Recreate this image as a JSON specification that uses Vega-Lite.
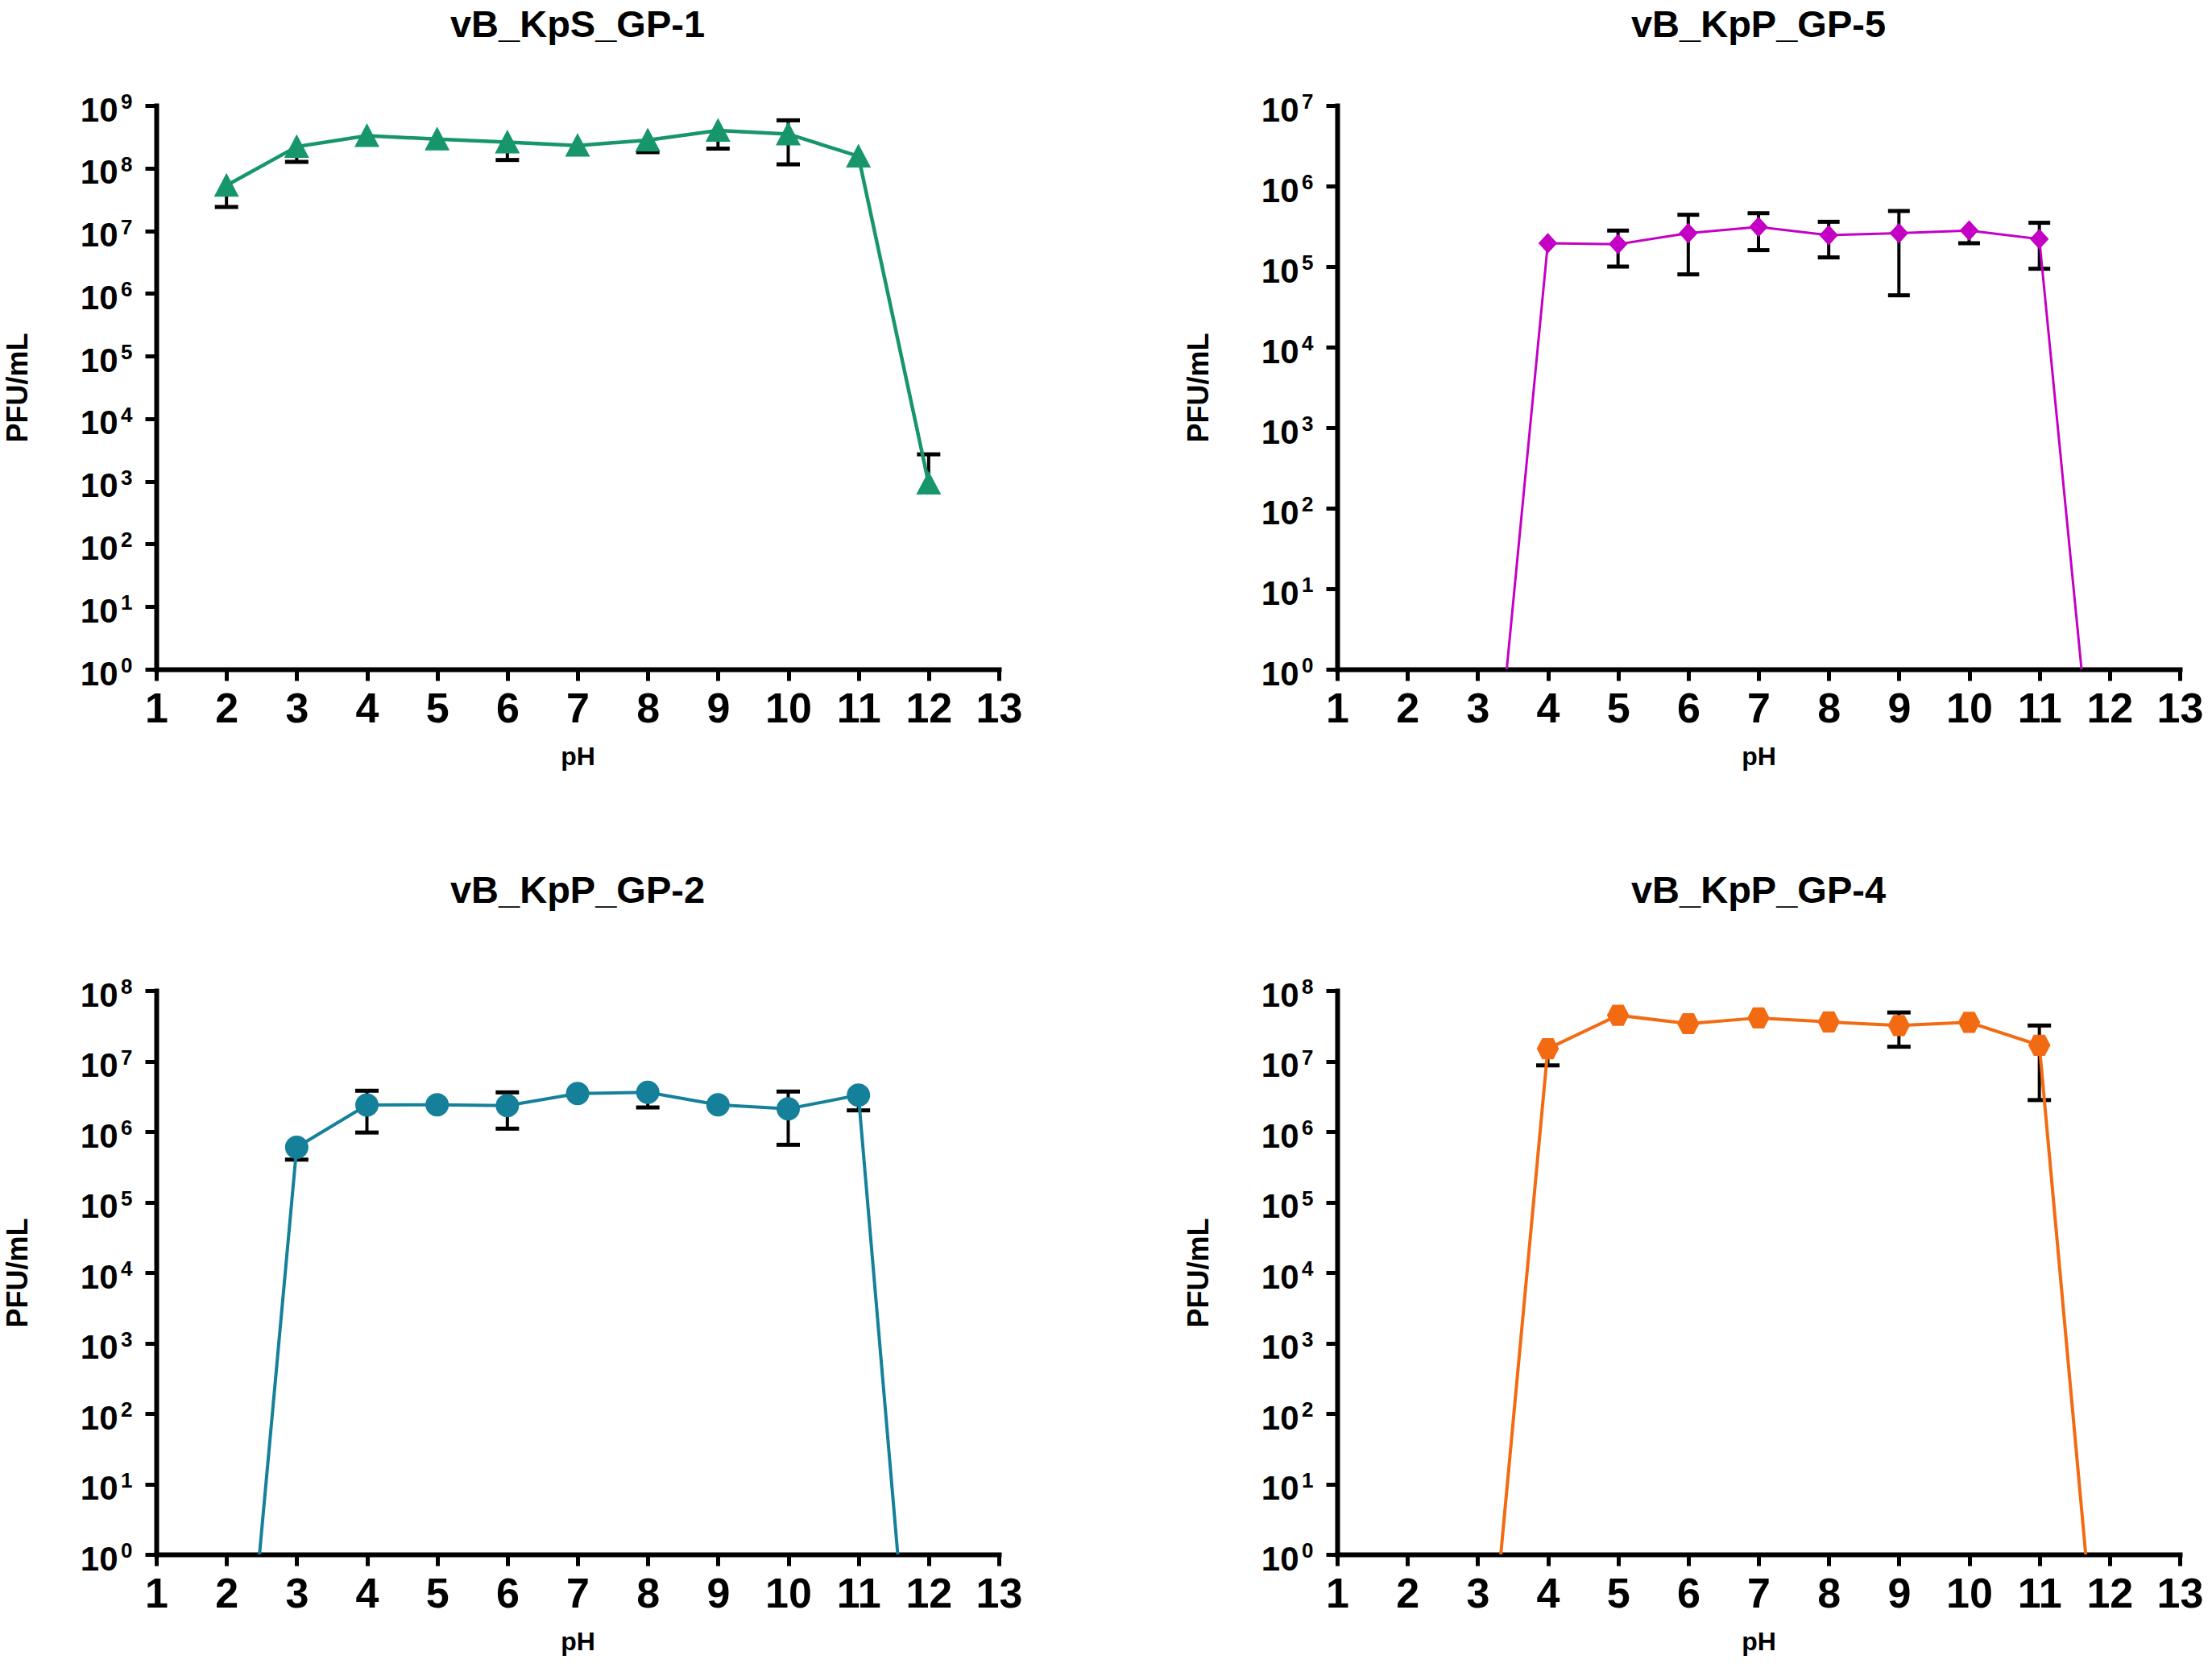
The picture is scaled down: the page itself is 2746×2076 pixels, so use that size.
{
  "$schema": "https://vega.github.io/schema/vega-lite/v6.json",
  "background": "white",
  "padding": {"left": 4, "top": 8, "right": 10, "bottom": 6},
  "spacing": 128,
  "config": {
    "view": {"stroke": null},
    "font": "Liberation Sans",
    "title": {"font": "Liberation Sans", "fontWeight": "bold", "fontSize": 47, "color": "black", "anchor": "middle"},
    "axis": {
      "grid": false,
      "domainColor": "black", "domainWidth": 6, "domainCap": "square",
      "tickColor": "black", "tickWidth": 5, "tickSize": 14,
      "labelFont": "Liberation Sans", "labelFontWeight": "bold", "labelColor": "black",
      "titleFont": "Liberation Sans", "titleFontWeight": "bold", "titleColor": "black"
    },
    "axisX": {"labelFontSize": 52, "labelPadding": 10, "titleFontSize": 32, "titlePadding": 18, "labelFlush": false},
    "axisY": {"labelFontSize": 42, "labelPadding": 34, "labelOffset": 6, "titleFontSize": 36, "titlePadding": 58}
  },
  "vconcat": [
    {
      "hconcat": [
        {
          "width": 1046, "height": 700,
          "title": {"text": "vB_KpS_GP-1", "offset": 58},
          "data": {"values": [
            {"pH": 2, "v": 53000000, "lo": 24000000, "hi": null},
            {"pH": 3, "v": 220000000, "lo": 126000000, "hi": null},
            {"pH": 4, "v": 330000000, "lo": null, "hi": null},
            {"pH": 5, "v": 290000000, "lo": null, "hi": null},
            {"pH": 6, "v": 260000000, "lo": 135000000, "hi": null},
            {"pH": 7, "v": 230000000, "lo": null, "hi": null},
            {"pH": 8, "v": 280000000, "lo": 180000000, "hi": null},
            {"pH": 9, "v": 400000000, "lo": 205000000, "hi": null},
            {"pH": 10, "v": 350000000, "lo": 115000000, "hi": 580000000},
            {"pH": 11, "v": 155000000, "lo": null, "hi": null},
            {"pH": 12, "v": 930, "lo": null, "hi": 2700}
          ]},
          "encoding": {
            "x": {"field": "pH", "type": "quantitative", "scale": {"domain": [1, 13], "nice": false, "zero": false},
                  "axis": {"values": [1,2,3,4,5,6,7,8,9,10,11,12,13], "format": "d", "title": "pH"}},
            "y": {"field": "v", "type": "quantitative", "title": "PFU/mL",
                  "scale": {"type": "log", "domain": [1, 1000000000], "nice": false},
                  "axis": {"values": [1,10,100,1000,10000,100000,1000000,10000000,100000000,1000000000], "labelExpr": "'10'"}}
          },
          "layer": [
            {"transform": [{"filter": "datum.lo != null"}], "mark": {"type": "rule", "color": "black", "strokeWidth": 4}, "encoding": {"y2": {"field": "lo"}}},
            {"transform": [{"filter": "datum.hi != null"}], "mark": {"type": "rule", "color": "black", "strokeWidth": 4}, "encoding": {"y2": {"field": "hi"}}},
            {"transform": [{"filter": "datum.lo != null"}], "mark": {"type": "tick", "orient": "horizontal", "color": "black", "size": 29, "thickness": 5, "opacity": 1},
             "encoding": {"y": {"field": "lo", "type": "quantitative", "title": "PFU/mL", "scale": {"type": "log", "domain": [1, 1000000000], "nice": false}}}},
            {"transform": [{"filter": "datum.hi != null"}], "mark": {"type": "tick", "orient": "horizontal", "color": "black", "size": 29, "thickness": 5, "opacity": 1},
             "encoding": {"y": {"field": "hi", "type": "quantitative", "title": "PFU/mL", "scale": {"type": "log", "domain": [1, 1000000000], "nice": false}}}},
            {"mark": {"type": "line", "color": "#16966A", "strokeWidth": 4.5, "clip": true}},
            {"mark": {"type": "point", "shape": "M0,-1L1,0.9L-1,0.9Z", "size": 960, "filled": true, "color": "#16966A", "opacity": 1, "clip": true}},
            {"data": {"values": [{"e": "0", "t": 1}, {"e": "1", "t": 10}, {"e": "2", "t": 100}, {"e": "3", "t": 1000}, {"e": "4", "t": 10000}, {"e": "5", "t": 100000}, {"e": "6", "t": 1000000}, {"e": "7", "t": 10000000}, {"e": "8", "t": 100000000}, {"e": "9", "t": 1000000000}]},
             "mark": {"type": "text", "font": "Liberation Sans", "fontWeight": "bold", "fontSize": 26, "fill": "black", "align": "left", "baseline": "middle", "dx": -44, "dy": -4, "clip": false},
             "encoding": {"x": {"value": 0}, "y": {"field": "t", "type": "quantitative", "title": "PFU/mL", "scale": {"type": "log", "domain": [1, 1000000000], "nice": false}}, "text": {"field": "e", "type": "nominal"}}}
          ]
        },
        {
          "width": 1046, "height": 700,
          "title": {"text": "vB_KpP_GP-5", "offset": 58},
          "data": {"values": [
            {"pH": 3, "v": 0.00018, "lo": null, "hi": null},
            {"pH": 4, "v": 195000, "lo": null, "hi": null},
            {"pH": 5, "v": 190000, "lo": 100000, "hi": 280000},
            {"pH": 6, "v": 260000, "lo": 80000, "hi": 440000},
            {"pH": 7, "v": 310000, "lo": 160000, "hi": 460000},
            {"pH": 8, "v": 245000, "lo": 130000, "hi": 360000},
            {"pH": 9, "v": 260000, "lo": 44000, "hi": 490000},
            {"pH": 10, "v": 280000, "lo": 195000, "hi": null},
            {"pH": 11, "v": 220000, "lo": 94000, "hi": 350000},
            {"pH": 12, "v": 0.00028, "lo": null, "hi": null}
          ]},
          "encoding": {
            "x": {"field": "pH", "type": "quantitative", "scale": {"domain": [1, 13], "nice": false, "zero": false},
                  "axis": {"values": [1,2,3,4,5,6,7,8,9,10,11,12,13], "format": "d", "title": "pH"}},
            "y": {"field": "v", "type": "quantitative", "title": "PFU/mL",
                  "scale": {"type": "log", "domain": [1, 10000000], "nice": false},
                  "axis": {"values": [1,10,100,1000,10000,100000,1000000,10000000], "labelExpr": "'10'"}}
          },
          "layer": [
            {"transform": [{"filter": "datum.lo != null"}], "mark": {"type": "rule", "color": "black", "strokeWidth": 4}, "encoding": {"y2": {"field": "lo"}}},
            {"transform": [{"filter": "datum.hi != null"}], "mark": {"type": "rule", "color": "black", "strokeWidth": 4}, "encoding": {"y2": {"field": "hi"}}},
            {"transform": [{"filter": "datum.lo != null"}], "mark": {"type": "tick", "orient": "horizontal", "color": "black", "size": 27, "thickness": 5, "opacity": 1},
             "encoding": {"y": {"field": "lo", "type": "quantitative", "title": "PFU/mL", "scale": {"type": "log", "domain": [1, 10000000], "nice": false}}}},
            {"transform": [{"filter": "datum.hi != null"}], "mark": {"type": "tick", "orient": "horizontal", "color": "black", "size": 27, "thickness": 5, "opacity": 1},
             "encoding": {"y": {"field": "hi", "type": "quantitative", "title": "PFU/mL", "scale": {"type": "log", "domain": [1, 10000000], "nice": false}}}},
            {"mark": {"type": "line", "color": "#C400C4", "strokeWidth": 3, "clip": true}},
            {"mark": {"type": "point", "shape": "M0,-1L0.92,0L0,1L-0.92,0Z", "size": 650, "filled": true, "color": "#C400C4", "opacity": 1, "clip": true}},
            {"data": {"values": [{"e": "0", "t": 1}, {"e": "1", "t": 10}, {"e": "2", "t": 100}, {"e": "3", "t": 1000}, {"e": "4", "t": 10000}, {"e": "5", "t": 100000}, {"e": "6", "t": 1000000}, {"e": "7", "t": 10000000}]},
             "mark": {"type": "text", "font": "Liberation Sans", "fontWeight": "bold", "fontSize": 26, "fill": "black", "align": "left", "baseline": "middle", "dx": -44, "dy": -4, "clip": false},
             "encoding": {"x": {"value": 0}, "y": {"field": "t", "type": "quantitative", "title": "PFU/mL", "scale": {"type": "log", "domain": [1, 10000000], "nice": false}}, "text": {"field": "e", "type": "nominal"}}}
          ]
        }
      ],
      "spacing": 420,
      "bounds": "flush"
    },
    {
      "hconcat": [
        {
          "width": 1046, "height": 700,
          "title": {"text": "vB_KpP_GP-2", "offset": 82},
          "data": {"values": [
            {"pH": 2, "v": 0.0000075, "lo": null, "hi": null},
            {"pH": 3, "v": 600000, "lo": 400000, "hi": null},
            {"pH": 4, "v": 2380000, "lo": 970000, "hi": 3800000},
            {"pH": 5, "v": 2400000, "lo": null, "hi": null},
            {"pH": 6, "v": 2340000, "lo": 1100000, "hi": 3600000},
            {"pH": 7, "v": 3470000, "lo": null, "hi": null},
            {"pH": 8, "v": 3600000, "lo": 2200000, "hi": null},
            {"pH": 9, "v": 2400000, "lo": null, "hi": null},
            {"pH": 10, "v": 2100000, "lo": 650000, "hi": 3700000},
            {"pH": 11, "v": 3300000, "lo": 2000000, "hi": null},
            {"pH": 12, "v": 0.0000076, "lo": null, "hi": null}
          ]},
          "encoding": {
            "x": {"field": "pH", "type": "quantitative", "scale": {"domain": [1, 13], "nice": false, "zero": false},
                  "axis": {"values": [1,2,3,4,5,6,7,8,9,10,11,12,13], "format": "d", "title": "pH"}},
            "y": {"field": "v", "type": "quantitative", "title": "PFU/mL",
                  "scale": {"type": "log", "domain": [1, 100000000], "nice": false},
                  "axis": {"values": [1,10,100,1000,10000,100000,1000000,10000000,100000000], "labelExpr": "'10'"}}
          },
          "layer": [
            {"transform": [{"filter": "datum.lo != null"}], "mark": {"type": "rule", "color": "black", "strokeWidth": 4}, "encoding": {"y2": {"field": "lo"}}},
            {"transform": [{"filter": "datum.hi != null"}], "mark": {"type": "rule", "color": "black", "strokeWidth": 4}, "encoding": {"y2": {"field": "hi"}}},
            {"transform": [{"filter": "datum.lo != null"}], "mark": {"type": "tick", "orient": "horizontal", "color": "black", "size": 29, "thickness": 5, "opacity": 1},
             "encoding": {"y": {"field": "lo", "type": "quantitative", "title": "PFU/mL", "scale": {"type": "log", "domain": [1, 100000000], "nice": false}}}},
            {"transform": [{"filter": "datum.hi != null"}], "mark": {"type": "tick", "orient": "horizontal", "color": "black", "size": 29, "thickness": 5, "opacity": 1},
             "encoding": {"y": {"field": "hi", "type": "quantitative", "title": "PFU/mL", "scale": {"type": "log", "domain": [1, 100000000], "nice": false}}}},
            {"mark": {"type": "line", "color": "#14809A", "strokeWidth": 4, "clip": true}},
            {"mark": {"type": "point", "shape": "circle", "size": 840, "filled": true, "color": "#14809A", "opacity": 1, "clip": true}},
            {"data": {"values": [{"e": "0", "t": 1}, {"e": "1", "t": 10}, {"e": "2", "t": 100}, {"e": "3", "t": 1000}, {"e": "4", "t": 10000}, {"e": "5", "t": 100000}, {"e": "6", "t": 1000000}, {"e": "7", "t": 10000000}, {"e": "8", "t": 100000000}]},
             "mark": {"type": "text", "font": "Liberation Sans", "fontWeight": "bold", "fontSize": 26, "fill": "black", "align": "left", "baseline": "middle", "dx": -44, "dy": -4, "clip": false},
             "encoding": {"x": {"value": 0}, "y": {"field": "t", "type": "quantitative", "title": "PFU/mL", "scale": {"type": "log", "domain": [1, 100000000], "nice": false}}, "text": {"field": "e", "type": "nominal"}}}
          ]
        },
        {
          "width": 1046, "height": 700,
          "title": {"text": "vB_KpP_GP-4", "offset": 82},
          "data": {"values": [
            {"pH": 3, "v": 0.00029, "lo": null, "hi": null},
            {"pH": 4, "v": 15000000, "lo": 8700000, "hi": null},
            {"pH": 5, "v": 44700000, "lo": null, "hi": null},
            {"pH": 6, "v": 34000000, "lo": null, "hi": null},
            {"pH": 7, "v": 41000000, "lo": null, "hi": null},
            {"pH": 8, "v": 36000000, "lo": null, "hi": null},
            {"pH": 9, "v": 32000000, "lo": 16000000, "hi": 49000000},
            {"pH": 10, "v": 35500000, "lo": null, "hi": null},
            {"pH": 11, "v": 16800000, "lo": 2800000, "hi": 32000000},
            {"pH": 12, "v": 0.00019, "lo": null, "hi": null}
          ]},
          "encoding": {
            "x": {"field": "pH", "type": "quantitative", "scale": {"domain": [1, 13], "nice": false, "zero": false},
                  "axis": {"values": [1,2,3,4,5,6,7,8,9,10,11,12,13], "format": "d", "title": "pH"}},
            "y": {"field": "v", "type": "quantitative", "title": "PFU/mL",
                  "scale": {"type": "log", "domain": [1, 100000000], "nice": false},
                  "axis": {"values": [1,10,100,1000,10000,100000,1000000,10000000,100000000], "labelExpr": "'10'"}}
          },
          "layer": [
            {"transform": [{"filter": "datum.lo != null"}], "mark": {"type": "rule", "color": "black", "strokeWidth": 4}, "encoding": {"y2": {"field": "lo"}}},
            {"transform": [{"filter": "datum.hi != null"}], "mark": {"type": "rule", "color": "black", "strokeWidth": 4}, "encoding": {"y2": {"field": "hi"}}},
            {"transform": [{"filter": "datum.lo != null"}], "mark": {"type": "tick", "orient": "horizontal", "color": "black", "size": 29, "thickness": 5, "opacity": 1},
             "encoding": {"y": {"field": "lo", "type": "quantitative", "title": "PFU/mL", "scale": {"type": "log", "domain": [1, 100000000], "nice": false}}}},
            {"transform": [{"filter": "datum.hi != null"}], "mark": {"type": "tick", "orient": "horizontal", "color": "black", "size": 29, "thickness": 5, "opacity": 1},
             "encoding": {"y": {"field": "hi", "type": "quantitative", "title": "PFU/mL", "scale": {"type": "log", "domain": [1, 100000000], "nice": false}}}},
            {"mark": {"type": "line", "color": "#F26B12", "strokeWidth": 4, "clip": true}},
            {"mark": {"type": "point", "shape": "M-1,0L-0.5,-0.95L0.5,-0.95L1,0L0.5,0.95L-0.5,0.95Z", "size": 760, "filled": true, "color": "#F26B12", "opacity": 1, "clip": true}},
            {"data": {"values": [{"e": "0", "t": 1}, {"e": "1", "t": 10}, {"e": "2", "t": 100}, {"e": "3", "t": 1000}, {"e": "4", "t": 10000}, {"e": "5", "t": 100000}, {"e": "6", "t": 1000000}, {"e": "7", "t": 10000000}, {"e": "8", "t": 100000000}]},
             "mark": {"type": "text", "font": "Liberation Sans", "fontWeight": "bold", "fontSize": 26, "fill": "black", "align": "left", "baseline": "middle", "dx": -44, "dy": -4, "clip": false},
             "encoding": {"x": {"value": 0}, "y": {"field": "t", "type": "quantitative", "title": "PFU/mL", "scale": {"type": "log", "domain": [1, 100000000], "nice": false}}, "text": {"field": "e", "type": "nominal"}}}
          ]
        }
      ],
      "spacing": 420,
      "bounds": "flush"
    }
  ]
}
